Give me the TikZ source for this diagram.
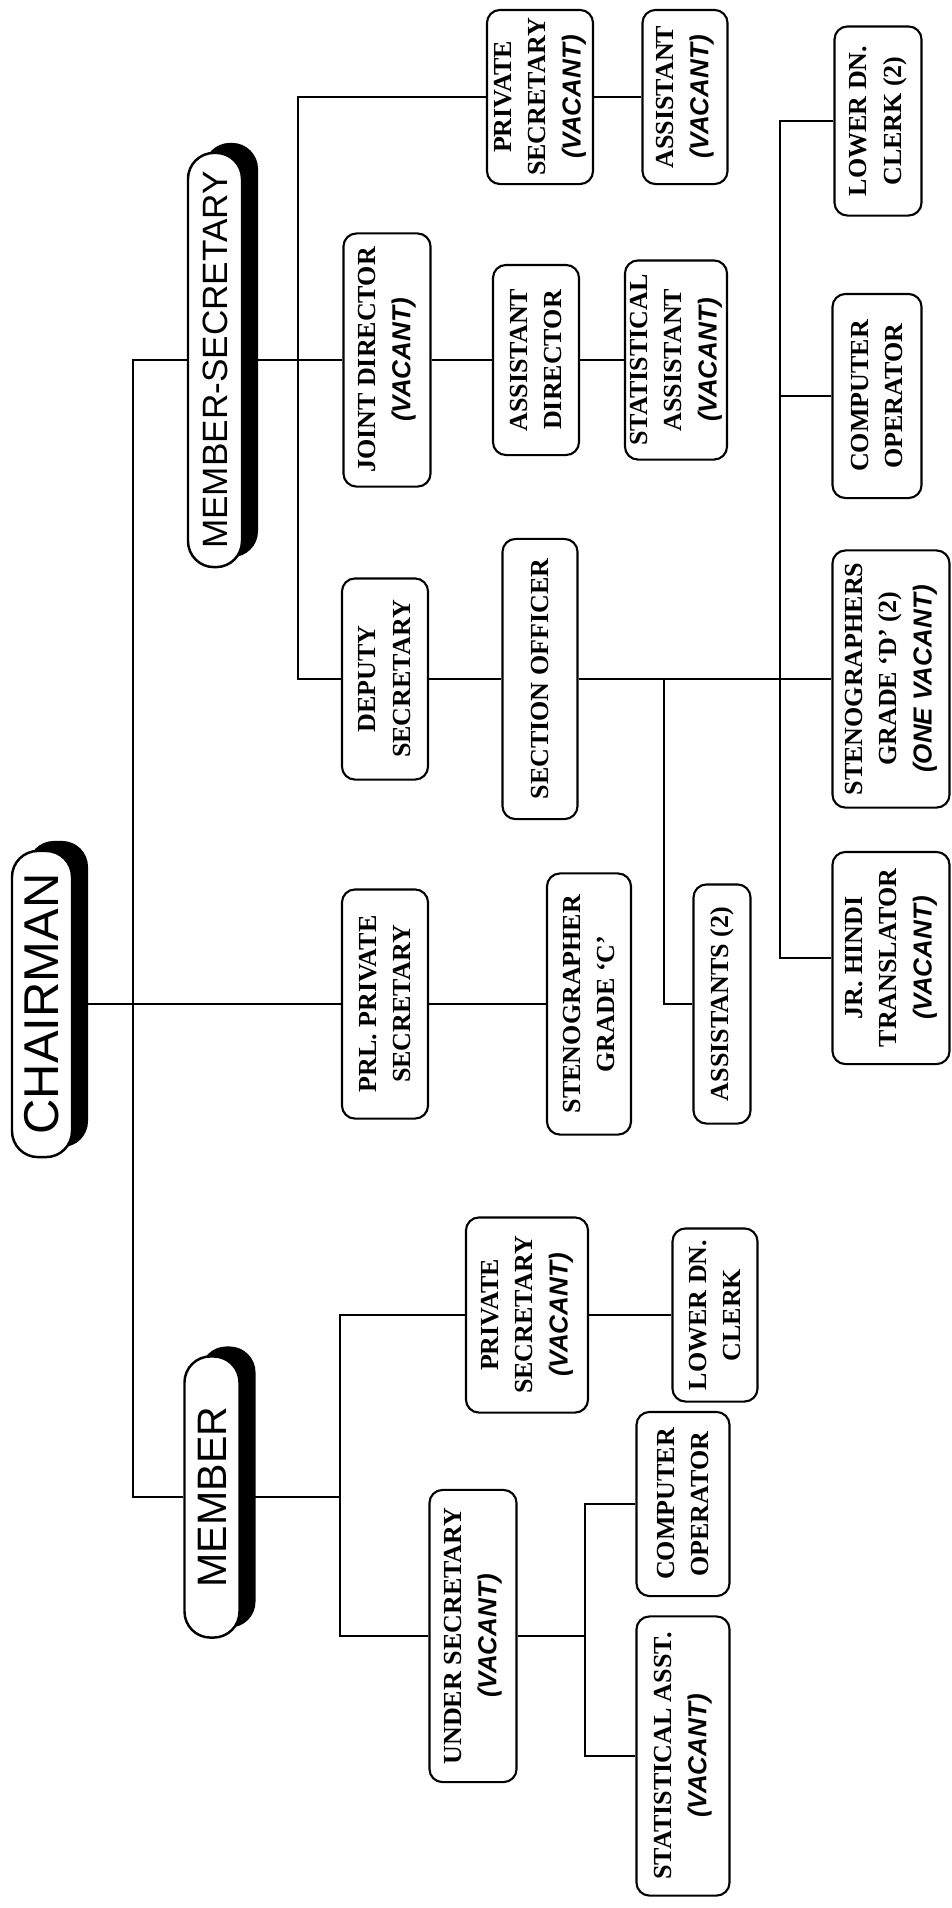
\documentclass[tikz,border=0pt]{standalone}
\usepackage{fontspec}
\setmainfont{Liberation Serif}
\newfontfamily\headfont{Liberation Sans}
\newfontfamily\vacfont{Liberation Sans}
\usetikzlibrary{shadows}
\newcommand{\vac}[1]{{\vacfont\bfseries\itshape #1}}
\tikzset{
  post/.style={rectangle, draw, fill=white, rotate=90, line width=0.6pt, rounded corners=1.3mm, inner sep=0pt, align=center, font=\fontsize{7.4}{9.9}\selectfont\bfseries},
  head/.style={rectangle, draw, fill=white, rotate=90, line width=0.7pt, rounded corners=2.6mm, inner sep=0pt, drop shadow={shadow xshift=0.16cm, shadow yshift=0.1cm, fill=black, opacity=1}},
  link/.style={line width=0.6pt}
}
\begin{document}
\begin{tikzpicture}[x=0.01cm, y=-0.01cm]
\fill[white] (0,0) rectangle (952,1908);
\useasboundingbox (0,0) rectangle (952,1908);

% heads
\node[head, minimum width=3.06cm, minimum height=0.6cm, font=\headfont\fontsize{13.9}{14}\selectfont] (chair) at (42,1004) {CHAIRMAN};
\node[head, minimum width=4.14cm, minimum height=0.54cm, font=\headfont\fontsize{10}{11}\selectfont] (ms) at (215,360) {MEMBER-SECRETARY};
\node[head, minimum width=2.81cm, minimum height=0.55cm, font=\headfont\fontsize{11.7}{12}\selectfont] (mem) at (212,1497) {MEMBER};

% member-secretary side
\node[post, minimum width=1.74cm, minimum height=1.06cm] (psms) at (540,97) {PRIVATE\\SECRETARY\\\vac{(VACANT)}};
\node[post, minimum width=1.74cm, minimum height=0.85cm] (asst) at (685,97) {ASSISTANT\\\vac{(VACANT)}};
\node[post, minimum width=2.53cm, minimum height=0.87cm] (jd) at (387,360) {JOINT DIRECTOR\\\vac{(VACANT)}};
\node[post, minimum width=1.90cm, minimum height=0.86cm] (ad) at (536,360) {ASSISTANT\\DIRECTOR};
\node[post, minimum width=1.99cm, minimum height=1.02cm] (sta) at (676,360) {STATISTICAL\\ASSISTANT\\\vac{(VACANT)}};
\node[post, minimum width=2.01cm, minimum height=0.86cm] (ds) at (385,679) {DEPUTY\\SECRETARY};
\node[post, minimum width=2.80cm, minimum height=0.75cm] (so) at (540,679) {SECTION OFFICER};
\node[post, minimum width=1.89cm, minimum height=0.87cm] (ldc) at (878,121) {LOWER DN.\\CLERK (2)};
\node[post, minimum width=2.04cm, minimum height=0.89cm] (coms) at (877,396) {COMPUTER\\OPERATOR};
\node[post, minimum width=2.57cm, minimum height=1.17cm] (stenod) at (891,679) {STENOGRAPHERS\\GRADE `D' (2)\\\vac{(ONE VACANT)}};
\node[post, minimum width=2.12cm, minimum height=1.17cm] (jrh) at (891,958) {JR. HINDI\\TRANSLATOR\\\vac{(VACANT)}};
\node[post, minimum width=2.39cm, minimum height=0.57cm] (assts) at (722,1004) {ASSISTANTS (2)};

% chairman side
\node[post, minimum width=2.29cm, minimum height=0.86cm] (prl) at (385,1004) {PRL. PRIVATE\\SECRETARY};
\node[post, minimum width=2.61cm, minimum height=0.84cm] (stenoc) at (589,1004) {STENOGRAPHER\\GRADE `C'};

% member side
\node[post, minimum width=1.95cm, minimum height=1.22cm] (psm) at (527,1315) {PRIVATE\\SECRETARY\\\vac{(VACANT)}};
\node[post, minimum width=1.73cm, minimum height=0.85cm] (ldcm) at (715,1315) {LOWER DN.\\CLERK};
\node[post, minimum width=2.92cm, minimum height=0.87cm] (us) at (473,1636) {UNDER SECRETARY\\\vac{(VACANT)}};
\node[post, minimum width=1.84cm, minimum height=0.93cm] (com) at (683,1504) {COMPUTER\\OPERATOR};
\node[post, minimum width=2.79cm, minimum height=0.93cm] (sam) at (683,1756) {STATISTICAL ASST.\\\vac{(VACANT)}};

% bus lines
\coordinate (trunk) at (133,0);
\coordinate (msbus) at (298,0);
\coordinate (sobus) at (664,0);
\coordinate (clbus) at (780,0);
\coordinate (mbus) at (340,0);
\coordinate (ubus) at (585,0);

\draw[link] (ms.north) -- (ms.north -| trunk) |- (mem.north);
\draw[link] (chair.south) -- (prl.north);
\draw[link] (prl.south) -- (stenoc.north);
\draw[link] (ms.south) -- (jd.north);
\draw[link] (jd.south) -- (ad.north);
\draw[link] (ad.south) -- (sta.north);
\draw[link] (psms.north) -- (psms.north -| msbus) |- (ds.north);
\draw[link] (psms.south) -- (asst.north);
\draw[link] (ds.south) -- (so.north);
\draw[link] (so.south) -- (stenod.north);
\draw[link] (so.south -| sobus) |- (assts.north);
\draw[link] (ldc.north) -- (ldc.north -| clbus) |- (jrh.north);
\draw[link] (coms.north) -- (coms.north -| clbus);
\draw[link] (mem.south) -- (mem.south -| mbus);
\draw[link] (psm.north) -- (psm.north -| mbus) |- (us.north);
\draw[link] (psm.south) -- (ldcm.north);
\draw[link] (us.south) -- (us.south -| ubus);
\draw[link] (com.north) -- (com.north -| ubus) |- (sam.north);
\end{tikzpicture}
\end{document}
